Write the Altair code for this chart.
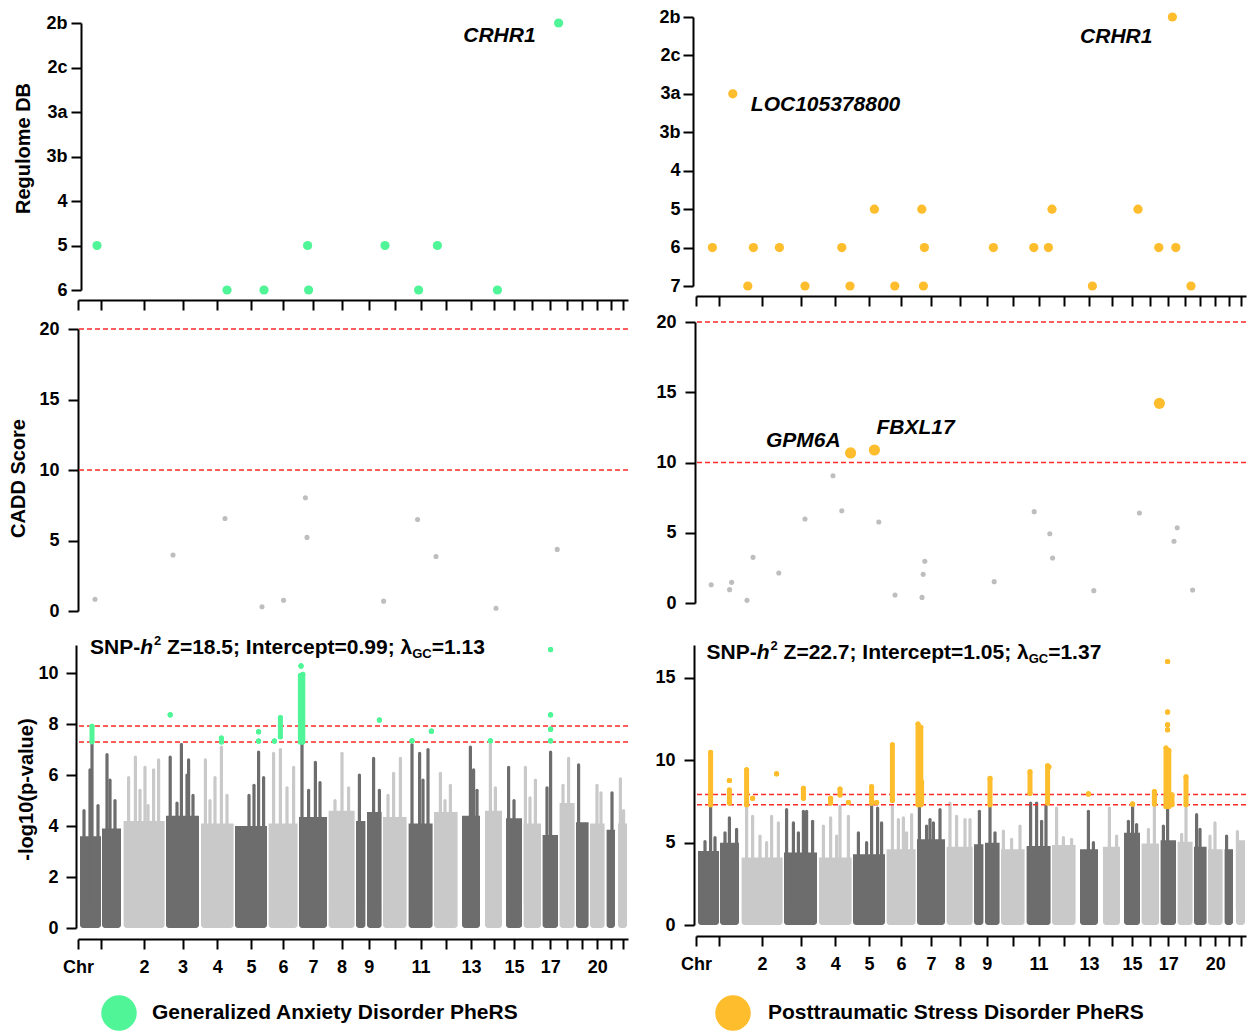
import json
import altair as alt
import pandas as pd

FONT = "Liberation Sans"
GREEN = "#50F598"
ORANGE = "#FEBD2C"
DARK = "#6D6D6D"
LIGHT = "#C9C9C9"
CADD_GREY = "#BEBEBE"
RED = "#FF2A2A"

W = 550
XMAX = 2750

# ---------------- chromosome layout (cumulative plot position) ----------------
seg_chrom = [1, 1, 2, 3, 4, 5, 6, 7, 8, 9, 9, 10, 11, 12, 13, 14, 15, 16, 17, 18, 19, 20, 21, 22]
seg_start = [10, 120, 228, 440, 615, 785, 953, 1105, 1253, 1390, 1445, 1525, 1653, 1780, 1920, 2035,
             2140, 2228, 2323, 2408, 2490, 2560, 2643, 2700]
seg_end = [115, 215, 433, 605, 778, 945, 1098, 1245, 1383, 1437, 1518, 1643, 1773, 1898, 2010, 2120,
           2220, 2315, 2400, 2483, 2553, 2633, 2685, 2745]
chrom_tick_label = ["", "2", "3", "4", "5", "6", "7", "8", "9", "", "11", "", "13", "", "15", "",
                    "17", "", "", "20", "", ""]

regulome_left = ["2b", "2c", "3a", "3b", "4", "5", "6"]
regulome_right = ["2b", "2c", "3a", "3b", "4", "5", "6", "7"]

# ---------------- Generalized Anxiety Disorder PheRS ----------------
gad_reg_pos = [95, 745, 930, 1148, 1153, 1535, 1703, 1797, 2097, 2403]
gad_reg_cat = ["5", "6", "6", "5", "6", "5", "6", "5", "6", "2b"]
gad_reg_gene = ["", "", "", "", "", "", "", "", "", "CRHR1"]

gad_cadd_pos = [85, 475, 735, 920, 1028, 1137, 1145, 1528, 1698, 1790, 2090, 2396]
gad_cadd_score = [0.83, 3.97, 6.56, 0.30, 0.76, 8.03, 5.22, 0.70, 6.49, 3.87, 0.19, 4.37]
gad_cadd_gene = [""] * 12

gad_base = [3.6, 3.9, 4.2, 4.4, 4.1, 4.0, 4.1, 4.35, 4.6, 4.2, 4.55, 4.35, 4.1, 4.55, 4.4, 4.6,
            4.3, 4.1, 3.65, 4.9, 4.15, 4.1, 3.85, 4.1]
gad_spike_pos = [30, 60, 70, 100, 145, 160, 185,
                 253, 287, 310, 335, 350, 378, 403,
                 461, 495, 517, 545, 553, 575,
                 637, 660, 685, 717, 745,
                 855, 880, 903, 928,
                 978, 1012, 1045, 1078,
                 1120, 1153, 1187, 1210,
                 1285, 1320, 1353,
                 1407, 1478, 1507,
                 1550, 1578, 1612,
                 1670, 1708, 1725, 1750,
                 1812, 1835, 1862,
                 1962, 1978, 1995,
                 2062, 2087,
                 2153, 2180,
                 2237, 2260, 2287,
                 2345, 2363,
                 2425, 2453,
                 2503,
                 2595, 2615,
                 2670,
                 2712, 2728]
gad_spike_top = [4.6, 6.2, 7.2, 4.8, 6.8, 5.8, 5.0,
                 5.9, 6.7, 5.4, 6.3, 4.8, 6.2, 6.6,
                 6.7, 4.9, 7.2, 6.0, 6.6, 5.2,
                 6.6, 5.0, 5.9, 7.1, 5.2,
                 5.2, 5.6, 6.9, 5.9,
                 6.85, 7.0, 5.5, 6.3,
                 7.2, 5.4, 6.5, 5.7,
                 5.0, 6.85, 5.5,
                 6.0, 6.65, 5.4,
                 5.2, 6.07, 6.65,
                 7.2, 6.85, 5.8, 7.0,
                 6.07, 5.0, 5.6,
                 7.1, 6.2, 5.4,
                 7.2, 5.5,
                 6.3, 5.0,
                 6.3, 5.1, 5.8,
                 5.5, 6.9,
                 5.6, 6.65,
                 6.4,
                 5.6, 5.3,
                 5.3,
                 5.85, 4.6]
gad_hit_pos = [70, 461, 717, 903, 903, 982, 1012, 1112, 1124, 1115, 1507, 1670, 1767, 2062,
               2363, 2363, 2363, 2363]
gad_hit_lo = [7.31, 8.36, 7.30, 7.33, 7.70, 7.33, 7.50, 7.30, 7.30, 10.28, 8.16, 7.34, 7.72, 7.34,
              7.34, 7.80, 8.36, 10.92]
gad_hit_hi = [7.91, 8.36, 7.45, 7.33, 7.70, 7.33, 8.25, 9.90, 9.95, 10.28, 8.16, 7.34, 7.72, 7.34,
              7.34, 7.80, 8.36, 10.92]
gad_stats = ["18.5", "0.99", "1.13"]

# ---------------- Posttraumatic Stress Disorder PheRS ----------------
ptsd_reg_pos = [82, 184, 259, 287, 417, 545, 729, 770, 892, 994, 1129, 1137, 1142, 1487, 1689, 1762,
                1780, 1982, 2210, 2314, 2382, 2399, 2475]
ptsd_reg_cat = ["6", "3a", "7", "6", "6", "7", "6", "7", "5", "7", "5", "7", "6", "6", "6", "6",
                "5", "7", "5", "6", "2b", "6", "7"]
ptsd_reg_gene = ["", "LOC105378800", "", "", "", "", "", "", "", "", "", "", "", "", "", "",
                 "", "", "", "", "CRHR1", "", ""]

ptsd_cadd_pos = [76, 168, 178, 255, 285, 414, 545, 685, 729, 773, 892, 914, 995, 1130, 1136, 1144,
                 1491, 1691, 1769, 1783, 1989, 2217, 2317, 2390, 2406, 2483]
ptsd_cadd_score = [1.30, 0.95, 1.47, 0.19, 3.25, 2.14, 5.98, 9.06, 6.57, 10.68, 10.89, 5.77, 0.57,
                   0.40, 2.04, 2.97, 1.52, 6.50, 4.93, 3.20, 0.88, 6.41, 14.21, 4.39, 5.36, 0.93]
ptsd_cadd_gene = ["", "", "", "", "", "", "", "", "", "GPM6A", "FBXL17", "", "", "", "", "",
                  "", "", "", "", "", "", "", "", "", ""]

ptsd_base = [4.5, 5.0, 4.1, 4.4, 4.1, 4.3, 4.6, 5.2, 4.75, 4.9, 5.0, 4.6, 4.8, 4.85, 4.6, 4.75,
             5.6, 4.95, 5.15, 5.05, 4.75, 4.6, 4.6, 5.15]
ptsd_spike_pos = [45, 73, 95, 145, 167, 203,
                  253, 283, 320, 353, 378, 412,
                  453, 487, 512, 537, 553, 583,
                  637, 673, 703, 720, 762,
                  812, 853, 878, 908, 928,
                  982, 1012, 1037, 1053, 1078,
                  1117, 1153, 1170, 1187, 1220,
                  1270, 1303, 1345, 1370,
                  1417, 1470, 1495,
                  1537, 1578, 1620,
                  1673, 1703, 1728, 1750,
                  1803, 1837, 1878,
                  1962, 1987,
                  2067, 2103,
                  2162, 2183, 2203,
                  2262, 2292,
                  2337, 2358,
                  2428, 2450,
                  2503, 2520,
                  2570, 2595,
                  2653,
                  2707]
ptsd_spike_top = [5.07, 7.2, 5.3, 5.6, 6.5, 5.8,
                  7.2, 6.6, 5.4, 5.0, 6.6, 6.2,
                  7.0, 6.2, 5.6, 6.9, 6.9, 6.3,
                  6.0, 6.5, 5.4, 7.2, 6.6,
                  5.6, 5.0, 7.2, 7.1, 6.2,
                  7.2, 6.4, 6.5, 5.6, 6.7,
                  7.2, 6.0, 6.4, 6.2, 7.0,
                  7.4, 6.6, 6.4, 6.4,
                  6.9, 7.2, 5.6,
                  5.7, 5.2, 6.0,
                  7.4, 7.4, 6.3, 7.2,
                  7.1, 5.3, 5.2,
                  6.9, 5.0,
                  7.1, 5.4,
                  6.3, 7.2, 6.1,
                  5.8, 7.2,
                  6.0, 7.2,
                  5.5, 7.1,
                  6.7, 5.8,
                  5.4, 6.2,
                  5.4,
                  5.67]
ptsd_hit_pos = [73, 167, 167, 253, 283, 403, 537, 673, 720, 762, 878, 903, 982, 1110, 1124, 1128,
                1470, 1670, 1758, 1764, 1962, 2183, 2292, 2350, 2364, 2358, 2358, 2358, 2358, 2380,
                2450]
ptsd_hit_lo = [7.30, 7.40, 8.77, 7.30, 7.70, 9.18, 7.70, 7.40, 7.90, 7.44, 7.40, 7.44, 7.56, 7.30,
               7.30, 7.40, 7.30, 8.00, 7.40, 9.60, 7.96, 7.35, 7.35, 7.20, 7.20, 11.85, 12.16,
               12.93, 16.00, 7.30, 7.30]
ptsd_hit_hi = [10.48, 8.20, 8.77, 9.42, 7.70, 9.18, 8.30, 7.70, 8.25, 7.44, 8.40, 7.44, 10.94,
               12.20, 12.00, 8.70, 8.90, 9.30, 9.67, 9.60, 7.96, 7.35, 8.10, 10.74, 10.60, 11.85,
               12.16, 12.93, 16.00, 7.90, 9.00]
ptsd_stats = ["22.7", "1.05", "1.37"]

gwas_thresholds = [7.30, 7.92]
cadd_thresholds = [10, 20]

# ---------------- helpers ----------------
chrom_center = {}
for c, s, e in zip(seg_chrom, seg_start, seg_end):
    lo, hi = chrom_center.get(c, (s, e))
    chrom_center[c] = (min(lo, s), max(hi, e))
tick_vals = [0] + [(chrom_center[c][0] + chrom_center[c][1]) / 2 for c in range(1, 23)]
tick_text = ["Chr"] + chrom_tick_label
label_expr = f"{json.dumps(tick_text)}[indexof({json.dumps(tick_vals)}, datum.value)]"


def chrom_of(pos):
    best, dist = 1, 1e9
    for c, s, e in zip(seg_chrom, seg_start, seg_end):
        d = 0 if s <= pos <= e else min(abs(pos - s), abs(pos - e))
        if d < dist:
            best, dist = c, d
    return best


def shade(c):
    return "dark" if c % 2 == 1 else "light"


XS = alt.Scale(domain=[0, XMAX], nice=False, zero=False)
SHADE = alt.Color("shade:N", scale=alt.Scale(domain=["dark", "light"], range=[DARK, LIGHT]), legend=None)

AW = {'S': 667, 'N': 722, 'P': 667, '-': 333, 'h': 611, ' ': 278, 'Z': 611, '=': 584, '.': 278,
      ';': 333, 'I': 278, 'n': 611, 't': 333, 'e': 556, 'r': 389, 'c': 556, 'p': 611, 'G': 778,
      'C': 722, 'λ': 556}


def tw(s, size):
    return sum(AW.get(ch, 556) for ch in s) * size / 1000.0


def spacer(h):
    return alt.Chart(pd.DataFrame({"v": [0]})).mark_point(opacity=0).encode(
        x=alt.value(0), y=alt.value(0)).properties(width=W, height=h)


def regulome(pos, cat, gene, cats, color, height, yaxis, label_styles):
    df = pd.DataFrame({"pos": pos, "cat": cat, "gene": gene})
    xax = alt.Axis(values=tick_vals, labels=False, tickSize=10, offset=10, title=None, grid=False)
    ys = alt.Scale(type="point", domain=cats, padding=0)
    X = alt.X("pos:Q", scale=XS, axis=xax, title=None)
    Y = alt.Y("cat:N", scale=ys, axis=yaxis)
    base = alt.Chart(df)
    layers = [base.mark_circle(size=85, opacity=1, color=color).encode(x=X, y=Y)]
    for g, st in label_styles.items():
        layers.append(base.transform_filter(alt.datum.gene == g).mark_text(
            font=FONT, fontSize=21, fontWeight="bold", fontStyle="italic", color="black",
            baseline="middle", **st).encode(x=X, y=Y, text="gene:N"))
    return alt.layer(*layers).properties(width=W, height=height)


def cadd(pos, score, gene, color, height, yaxis, label_styles):
    df = pd.DataFrame({"pos": pos, "score": score, "gene": gene})
    ys = alt.Scale(domain=[0, 20], nice=False)
    X = alt.X("pos:Q", scale=XS, axis=None)
    Y = alt.Y("score:Q", scale=ys, axis=yaxis)
    base = alt.Chart(df)
    rules = alt.Chart(pd.DataFrame({"t": cadd_thresholds})).mark_rule(
        color=RED, strokeDash=[5, 3], strokeWidth=1.5).encode(y=alt.Y("t:Q", scale=ys, axis=yaxis))
    pts = base.mark_circle(opacity=1).encode(
        x=X, y=Y,
        color=alt.condition(alt.datum.score >= 10, alt.value(color), alt.value(CADD_GREY)),
        size=alt.condition(alt.datum.score >= 10, alt.value(125), alt.value(26)))
    layers = [rules, pts]
    for g, st in label_styles.items():
        layers.append(base.transform_filter(alt.datum.gene == g).mark_text(
            font=FONT, fontSize=21, fontWeight="bold", fontStyle="italic", color="black",
            baseline="middle", **st).encode(x=X, y=Y, text="gene:N"))
    return alt.layer(*layers).properties(width=W, height=height)


def manhattan(base_h, sp_pos, sp_top, hit_pos, hit_lo, hit_hi, ymax, yaxis, height, color, stats,
              ax, ay):
    ys = alt.Scale(domain=[0, ymax], nice=False)
    xax = alt.Axis(values=tick_vals, labelExpr=label_expr, tickSize=10, offset=11, labelPadding=9,
                   labelFlush=False, labelOverlap=False, labelAngle=0, title=None, grid=False)
    blocks = pd.DataFrame({"chrom": seg_chrom, "start": seg_start, "end": seg_end, "base": base_h})
    blocks["shade"] = [shade(c) for c in seg_chrom]
    spikes = pd.DataFrame({"pos": sp_pos, "top": sp_top})
    spikes["shade"] = [shade(chrom_of(p)) for p in sp_pos]
    hits = pd.DataFrame({"pos": hit_pos, "lo": hit_lo, "hi": hit_hi})
    dots = pd.DataFrame({"pos": hit_pos + hit_pos, "v": hit_lo + hit_hi})

    bars = alt.Chart(blocks).mark_bar(cornerRadiusBottomLeft=3, cornerRadiusBottomRight=3).encode(
        x=alt.X("start:Q", scale=XS, axis=xax), x2="end:Q",
        y=alt.Y("base:Q", scale=ys, axis=yaxis), y2=alt.datum(0), color=SHADE)
    spk = alt.Chart(spikes).mark_rule(strokeWidth=3.2, strokeCap="round").encode(
        x=alt.X("pos:Q", scale=XS, axis=xax), y=alt.Y("top:Q", scale=ys, axis=yaxis),
        y2=alt.datum(1), color=SHADE)
    thr = alt.Chart(pd.DataFrame({"t": gwas_thresholds})).mark_rule(
        color=RED, strokeDash=[5, 3], strokeWidth=1.5).encode(y=alt.Y("t:Q", scale=ys, axis=yaxis))
    hr = alt.Chart(hits).mark_rule(strokeWidth=5, strokeCap="round", color=color).encode(
        x=alt.X("pos:Q", scale=XS, axis=xax), y=alt.Y("lo:Q", scale=ys, axis=yaxis), y2="hi:Q")
    hd = alt.Chart(dots).mark_circle(size=26, opacity=1, color=color).encode(
        x=alt.X("pos:Q", scale=XS, axis=xax), y=alt.Y("v:Q", scale=ys, axis=yaxis))

    z, icpt, lam = stats
    # (text, font size, style, vertical shift, gap before)
    pieces = [("SNP-", 21, "normal", 0, 0), ("h", 21, "italic", 0, 0), ("2", 13, "normal", -7, 1),
              (f"Z={z}; Intercept={icpt}; λ", 21, "normal", 0, tw(" ", 21)),
              ("GC", 13, "normal", 6, 0), (f"={lam}", 21, "normal", 0, 0)]
    layers = [bars, spk, thr, hr, hd]
    x = ax
    one = pd.DataFrame({"t": [0]})
    for txt, size, style, dy, gap in pieces:
        x += gap
        layers.append(alt.Chart(one).mark_text(
            text=txt, font=FONT, fontSize=size, fontWeight="bold", fontStyle=style, color="black",
            align="left", baseline="middle", dy=dy).encode(x=alt.value(x), y=alt.value(ay)))
        x += tw(txt, size)
    return alt.layer(*layers).properties(width=W, height=height)


def legend_row(label, color, cx, tx):
    d = pd.DataFrame({"label": [label]})
    circ = alt.Chart(d).mark_circle(size=1257, opacity=1, color=color).encode(
        x=alt.value(cx), y=alt.value(20))
    txt = alt.Chart(d).mark_text(align="left", baseline="middle", font=FONT, fontSize=21,
                                 fontWeight="bold", color="black").encode(
        x=alt.value(tx), y=alt.value(20), text="label:N")
    return alt.layer(circ, txt).properties(width=W, height=40)


def yaxis(title=None, **kw):
    d = dict(grid=False, tickSize=10, labelFontSize=18)
    if title is not None:
        d.update(title=title, titleAngle=270, titleAlign="center", titleBaseline="middle")
    else:
        d.update(title=None)
    d.update(kw)
    return alt.Axis(**d)


# ---------------- left column (GAD) ----------------
reg_l = regulome(gad_reg_pos, gad_reg_cat, gad_reg_gene, regulome_left, GREEN, 267,
                 yaxis("Regulome DB", titleX=-58, titleY=125, offset=-3, labelPadding=4),
                 {"CRHR1": dict(align="right", dx=-23, dy=13)})
cadd_l = cadd(gad_cadd_pos, gad_cadd_score, gad_cadd_gene, GREEN, 282,
              yaxis("CADD Score", titleX=-60, titleY=149, values=[0, 5, 10, 15, 20], labelPadding=9),
              {})
man_l = manhattan(gad_base, gad_spike_pos, gad_spike_top, gad_hit_pos, gad_hit_lo, gad_hit_hi,
                  11.1, yaxis("-log10(p-value)", titleX=-50, titleY=144, values=[0, 2, 4, 6, 8, 10],
                              offset=2, labelPadding=8),
                  283, GREEN, gad_stats, 12, 3)
leg_l = legend_row("Generalized Anxiety Disorder PheRS", GREEN, 41, 74)

left_col = alt.vconcat(spacer(6), reg_l, spacer(39), cadd_l, spacer(34), man_l, spacer(65), leg_l,
                       spacing=0, bounds="flush")

# ---------------- right column (PTSD) ----------------
reg_r = regulome(ptsd_reg_pos, ptsd_reg_cat, ptsd_reg_gene, regulome_right, ORANGE, 269,
                 yaxis(None, offset=3, labelPadding=3),
                 {"LOC105378800": dict(align="left", dx=18, dy=11),
                  "CRHR1": dict(align="right", dx=-20, dy=20)})
cadd_r = cadd(ptsd_cadd_pos, ptsd_cadd_score, ptsd_cadd_gene, ORANGE, 281,
              yaxis(None, values=[0, 5, 10, 15, 20], offset=1, labelPadding=9),
              {"GPM6A": dict(align="right", dx=-10, dy=-12),
               "FBXL17": dict(align="left", dx=2, dy=-22)})
man_r = manhattan(ptsd_base, ptsd_spike_pos, ptsd_spike_top, ptsd_hit_pos, ptsd_hit_lo, ptsd_hit_hi,
                  17.0, yaxis(None, values=[0, 5, 10, 15], offset=2, labelPadding=9),
                  280, ORANGE, ptsd_stats, 10.5, 7.5)
leg_r = legend_row("Posttraumatic Stress Disorder PheRS", ORANGE, 37, 72)

right_col = alt.vconcat(reg_r, spacer(36), cadd_r, spacer(42), man_r, spacer(68), leg_r,
                        spacing=0, bounds="flush")

chart = alt.hconcat(left_col, right_col, spacing=25).properties(
    padding=0
).configure_view(stroke=None).configure_axis(
    domainColor="black", tickColor="black", labelColor="black", titleColor="black",
    labelFont=FONT, titleFont=FONT, labelFontWeight="bold", titleFontWeight="bold",
    labelFontSize=18, titleFontSize=20, domainWidth=2, tickWidth=2, grid=False
)

chart.save("out.html", embed_options={"renderer": "svg", "actions": False})
